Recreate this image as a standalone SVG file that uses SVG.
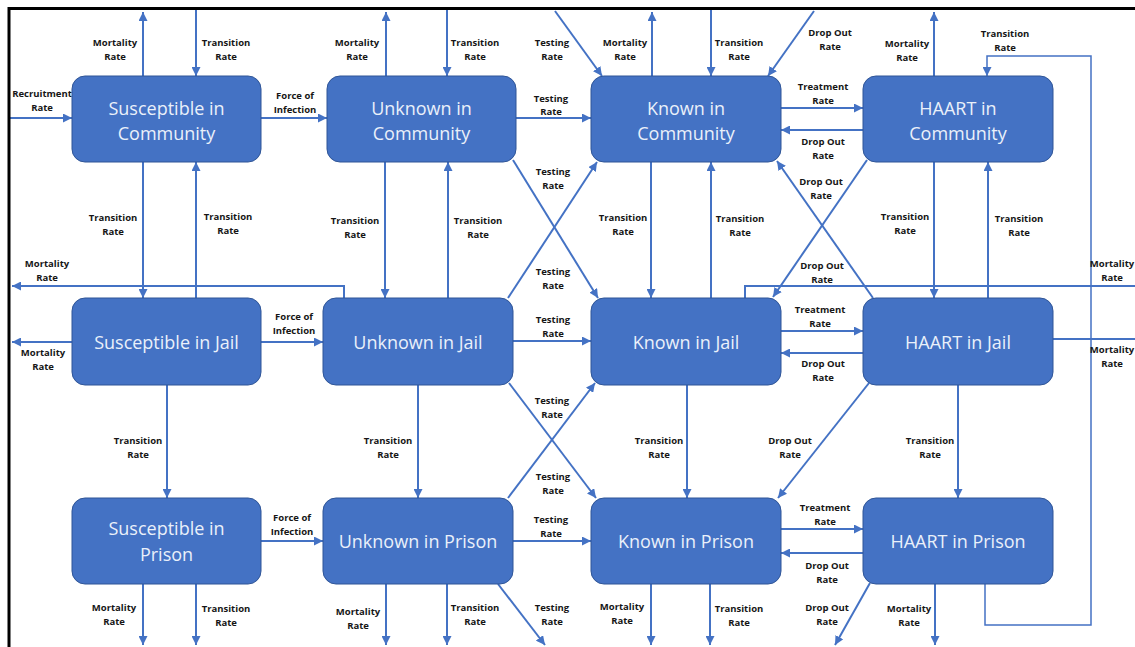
<svg xmlns="http://www.w3.org/2000/svg" width="1135" height="647" viewBox="0 0 1135 647">
<style>
.n{fill:#4472C4;stroke:#2F5597;stroke-width:1}
.t{font-family:"Open Sans","Liberation Sans",sans-serif;font-size:18px;fill:#EAF0FA;text-anchor:middle}
.l{font-family:"Open Sans","Liberation Sans",sans-serif;font-size:9.5px;font-weight:700;fill:#161616;text-anchor:middle}
.c{fill:none;stroke:#4472C4;stroke-width:2}
.a{marker-end:url(#ar)}
.thin{stroke-width:1.5}
</style>
<defs>
<marker id="ar" markerUnits="userSpaceOnUse" markerWidth="9" markerHeight="9" refX="8" refY="4" orient="auto" viewBox="0 0 8 8">
<path d="M0,0 L8,4 L0,8 z" fill="#4472C4"/>
</marker>
</defs>
<rect width="1135" height="647" fill="#fff"/>
<g id="connectors">
<path class="c a" d="M143,76 V12"/>
<path class="c a" d="M196,10 V76"/>
<path class="c a" d="M386,76 V12"/>
<path class="c a" d="M447,10 V76"/>
<path class="c a" d="M652,76 V12"/>
<path class="c a" d="M711,10 V76"/>
<path class="c a" d="M934,76 V12"/>
<path class="c a thin" d="M985,584 V625 H1091 V56 H987 V76"/>
<path class="c a" d="M10,118 H72"/>
<path class="c a" d="M261,118 H327"/>
<path class="c a" d="M516,118 H591"/>
<path class="c a" d="M781,108 H863"/>
<path class="c a" d="M863,130 H781"/>
<path class="c a" d="M555,11 L602,76"/>
<path class="c a" d="M814,11 L768,76"/>
<path class="c a" d="M513,160 L598,298"/>
<path class="c a" d="M508,298 L597,162"/>
<path class="c a" d="M873,298 L777,161"/>
<path class="c a" d="M867,160 L773,297"/>
<path class="c a" d="M143,162 V298"/>
<path class="c a" d="M196,298 V162"/>
<path class="c a" d="M385,162 V298"/>
<path class="c a" d="M448,298 V162"/>
<path class="c a" d="M651,162 V298"/>
<path class="c a" d="M711,298 V162"/>
<path class="c a" d="M934,162 V298"/>
<path class="c a" d="M988,298 V162"/>
<path class="c a" d="M344,298 V286 H12"/>
<path class="c" d="M745,298 V286 H1135"/>
<path class="c a" d="M72,342 H12"/>
<path class="c a" d="M261,342 H323"/>
<path class="c a" d="M513,341 H591"/>
<path class="c a" d="M781,331 H863"/>
<path class="c a" d="M863,353 H781"/>
<path class="c" d="M1053,339 H1135"/>
<path class="c a" d="M509,383 L596,498"/>
<path class="c a" d="M508,498 L595,383"/>
<path class="c a" d="M869,383 L778,498"/>
<path class="c a" d="M167,385 V498"/>
<path class="c a" d="M418,385 V498"/>
<path class="c a" d="M687,385 V498"/>
<path class="c a" d="M958,385 V498"/>
<path class="c a" d="M261,541 H323"/>
<path class="c a" d="M513,541 H591"/>
<path class="c a" d="M781,529 H863"/>
<path class="c a" d="M863,553 H781"/>
<path class="c a" d="M143,584 V645"/>
<path class="c a" d="M196,584 V645"/>
<path class="c a" d="M386,584 V645"/>
<path class="c a" d="M447,584 V645"/>
<path class="c a" d="M498,584 L545,645"/>
<path class="c a" d="M651,584 V645"/>
<path class="c a" d="M710,584 V645"/>
<path class="c a" d="M870,583 L835,645"/>
<path class="c a" d="M935,584 V645"/>
</g>
<g id="labels">
<text class="l" x="42" y="97">Recruitment<tspan x="42" y="111">Rate</tspan></text>
<text class="l" x="115" y="46">Mortality<tspan x="115" y="60">Rate</tspan></text>
<text class="l" x="226" y="46">Transition<tspan x="226" y="60">Rate</tspan></text>
<text class="l" x="295" y="99">Force of<tspan x="295" y="113">Infection</tspan></text>
<text class="l" x="357" y="46">Mortality<tspan x="357" y="60">Rate</tspan></text>
<text class="l" x="475" y="46">Transition<tspan x="475" y="60">Rate</tspan></text>
<text class="l" x="552" y="46">Testing<tspan x="552" y="60">Rate</tspan></text>
<text class="l" x="625" y="46">Mortality<tspan x="625" y="60">Rate</tspan></text>
<text class="l" x="739" y="46">Transition<tspan x="739" y="60">Rate</tspan></text>
<text class="l" x="830" y="36">Drop Out<tspan x="830" y="50">Rate</tspan></text>
<text class="l" x="907" y="47">Mortality<tspan x="907" y="61">Rate</tspan></text>
<text class="l" x="1005" y="37">Transition<tspan x="1005" y="51">Rate</tspan></text>
<text class="l" x="551" y="102">Testing<tspan x="551" y="115">Rate</tspan></text>
<text class="l" x="823" y="90">Treatment<tspan x="823" y="104">Rate</tspan></text>
<text class="l" x="823" y="145">Drop Out<tspan x="823" y="159">Rate</tspan></text>
<text class="l" x="553" y="175">Testing<tspan x="553" y="189">Rate</tspan></text>
<text class="l" x="821" y="185">Drop Out<tspan x="821" y="199">Rate</tspan></text>
<text class="l" x="113" y="221">Transition<tspan x="113" y="235">Rate</tspan></text>
<text class="l" x="228" y="220">Transition<tspan x="228" y="234">Rate</tspan></text>
<text class="l" x="355" y="224">Transition<tspan x="355" y="238">Rate</tspan></text>
<text class="l" x="478" y="224">Transition<tspan x="478" y="238">Rate</tspan></text>
<text class="l" x="623" y="221">Transition<tspan x="623" y="235">Rate</tspan></text>
<text class="l" x="740" y="222">Transition<tspan x="740" y="236">Rate</tspan></text>
<text class="l" x="905" y="220">Transition<tspan x="905" y="234">Rate</tspan></text>
<text class="l" x="1019" y="222">Transition<tspan x="1019" y="236">Rate</tspan></text>
<text class="l" x="47" y="267">Mortality<tspan x="47" y="281">Rate</tspan></text>
<text class="l" x="553" y="275">Testing<tspan x="553" y="289">Rate</tspan></text>
<text class="l" x="822" y="269">Drop Out<tspan x="822" y="283">Rate</tspan></text>
<text class="l" x="1112" y="267">Mortality<tspan x="1112" y="281">Rate</tspan></text>
<text class="l" x="294" y="320">Force of<tspan x="294" y="334">Infection</tspan></text>
<text class="l" x="553" y="323">Testing<tspan x="553" y="337">Rate</tspan></text>
<text class="l" x="820" y="313">Treatment<tspan x="820" y="327">Rate</tspan></text>
<text class="l" x="43" y="356">Mortality<tspan x="43" y="370">Rate</tspan></text>
<text class="l" x="823" y="367">Drop Out<tspan x="823" y="381">Rate</tspan></text>
<text class="l" x="1112" y="353">Mortality<tspan x="1112" y="367">Rate</tspan></text>
<text class="l" x="552" y="404">Testing<tspan x="552" y="418">Rate</tspan></text>
<text class="l" x="138" y="444">Transition<tspan x="138" y="458">Rate</tspan></text>
<text class="l" x="388" y="444">Transition<tspan x="388" y="458">Rate</tspan></text>
<text class="l" x="659" y="444">Transition<tspan x="659" y="458">Rate</tspan></text>
<text class="l" x="790" y="444">Drop Out<tspan x="790" y="458">Rate</tspan></text>
<text class="l" x="930" y="444">Transition<tspan x="930" y="458">Rate</tspan></text>
<text class="l" x="553" y="480">Testing<tspan x="553" y="494">Rate</tspan></text>
<text class="l" x="292" y="521">Force of<tspan x="292" y="535">Infection</tspan></text>
<text class="l" x="551" y="523">Testing<tspan x="551" y="537">Rate</tspan></text>
<text class="l" x="825" y="511">Treatment<tspan x="825" y="525">Rate</tspan></text>
<text class="l" x="827" y="569">Drop Out<tspan x="827" y="583">Rate</tspan></text>
<text class="l" x="114" y="611">Mortality<tspan x="114" y="625">Rate</tspan></text>
<text class="l" x="226" y="612">Transition<tspan x="226" y="626">Rate</tspan></text>
<text class="l" x="358" y="615">Mortality<tspan x="358" y="629">Rate</tspan></text>
<text class="l" x="475" y="611">Transition<tspan x="475" y="625">Rate</tspan></text>
<text class="l" x="552" y="611">Testing<tspan x="552" y="625">Rate</tspan></text>
<text class="l" x="622" y="610">Mortality<tspan x="622" y="624">Rate</tspan></text>
<text class="l" x="739" y="612">Transition<tspan x="739" y="626">Rate</tspan></text>
<text class="l" x="827" y="611">Drop Out<tspan x="827" y="625">Rate</tspan></text>
<text class="l" x="909" y="612">Mortality<tspan x="909" y="626">Rate</tspan></text>
</g>
<g id="susceptible-community"><rect class="n" x="72" y="76" width="189" height="86" rx="13"/><text class="t" x="166.5" y="115">Susceptible in<tspan x="166.5" y="140">Community</tspan></text></g>
<g id="unknown-community"><rect class="n" x="327" y="76" width="189" height="86" rx="13"/><text class="t" x="421.5" y="115">Unknown in<tspan x="421.5" y="140">Community</tspan></text></g>
<g id="known-community"><rect class="n" x="591" y="76" width="190" height="86" rx="13"/><text class="t" x="686" y="115">Known in<tspan x="686" y="140">Community</tspan></text></g>
<g id="haart-community"><rect class="n" x="863" y="76" width="190" height="86" rx="13"/><text class="t" x="958" y="115">HAART in<tspan x="958" y="140">Community</tspan></text></g>
<g id="susceptible-jail"><rect class="n" x="72" y="298" width="189" height="87" rx="13"/><text class="t" x="166.5" y="349">Susceptible in Jail</text></g>
<g id="unknown-jail"><rect class="n" x="323" y="298" width="190" height="87" rx="13"/><text class="t" x="418" y="349">Unknown in Jail</text></g>
<g id="known-jail"><rect class="n" x="591" y="298" width="190" height="87" rx="13"/><text class="t" x="686" y="349">Known in Jail</text></g>
<g id="haart-jail"><rect class="n" x="863" y="298" width="190" height="87" rx="13"/><text class="t" x="958" y="349">HAART in Jail</text></g>
<g id="susceptible-prison"><rect class="n" x="72" y="498" width="189" height="86" rx="13"/><text class="t" x="166.5" y="535">Susceptible in<tspan x="166.5" y="561">Prison</tspan></text></g>
<g id="unknown-prison"><rect class="n" x="323" y="498" width="190" height="86" rx="13"/><text class="t" x="418" y="548">Unknown in Prison</text></g>
<g id="known-prison"><rect class="n" x="591" y="498" width="190" height="86" rx="13"/><text class="t" x="686" y="548">Known in Prison</text></g>
<g id="haart-prison"><rect class="n" x="863" y="498" width="190" height="86" rx="13"/><text class="t" x="958" y="548">HAART in Prison</text></g>
<path d="M9,647 V8.5 H1135" fill="none" stroke="#000" stroke-width="3"/>
</svg>
